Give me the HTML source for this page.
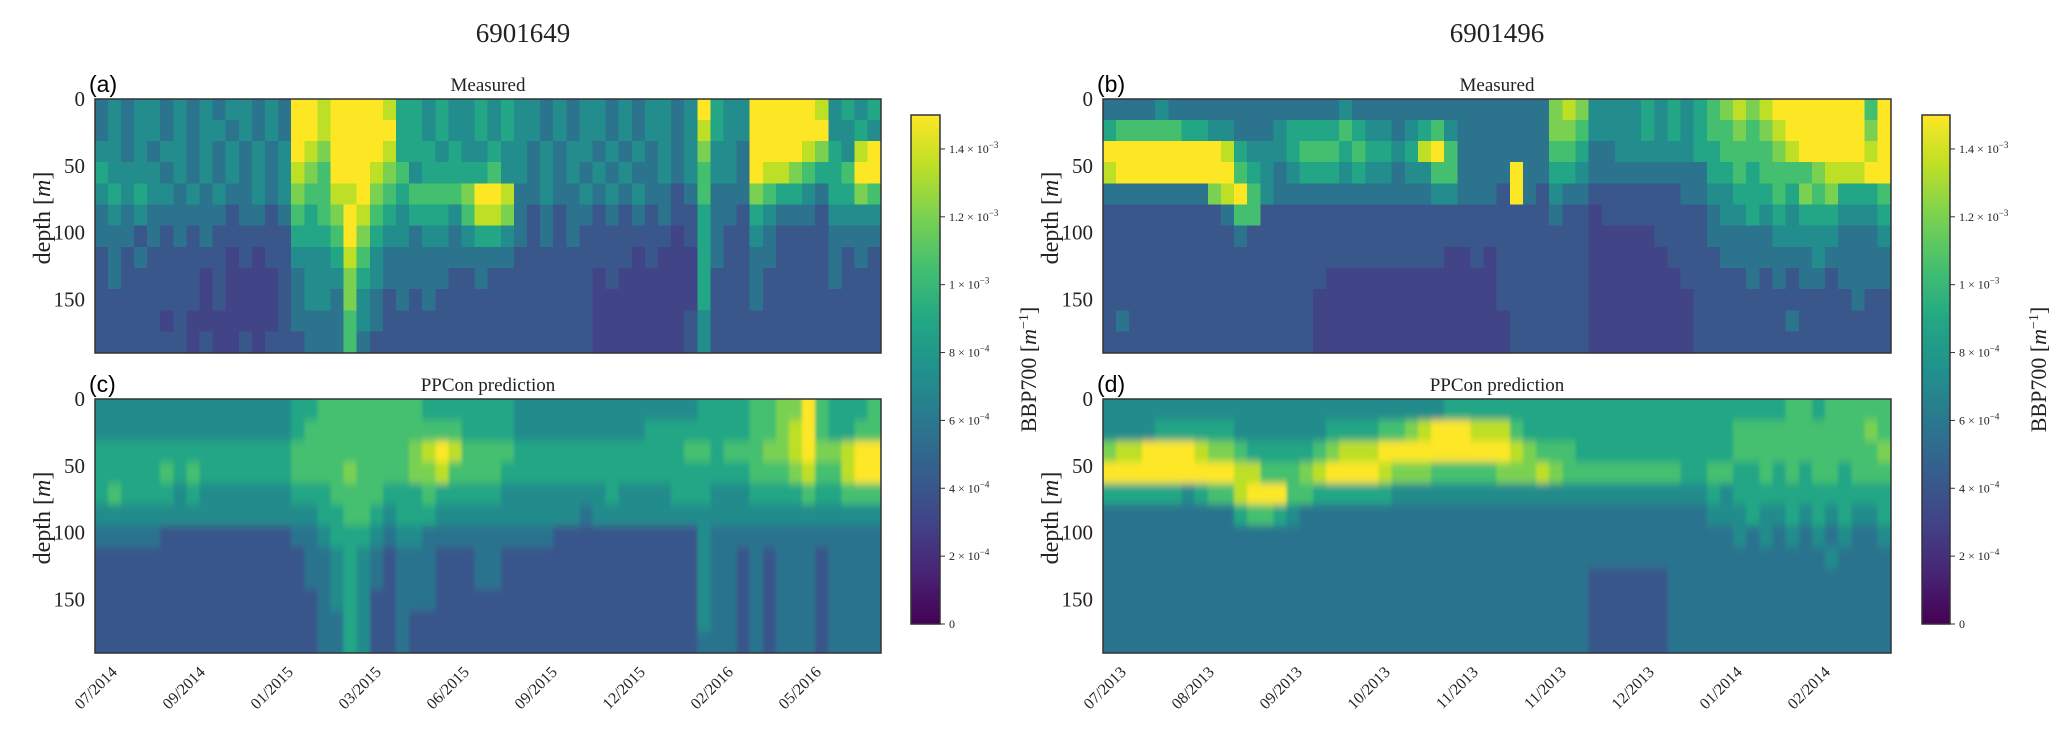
<!DOCTYPE html>
<html><head><meta charset="utf-8">
<style>
html,body{margin:0;padding:0;background:#fff;}
svg{display:block;}
.serif{font-family:"Liberation Serif",serif;fill:#222;}
.sans{font-family:"Liberation Sans",sans-serif;fill:#000;}
</style></head>
<body>
<svg id="fig" width="2067" height="734" viewBox="0 0 2067 734" xmlns="http://www.w3.org/2000/svg">
<defs>
<linearGradient id="viridis" x1="0" y1="1" x2="0" y2="0">
<stop offset="0" stop-color="#440154"/><stop offset="0.1" stop-color="#482475"/><stop offset="0.2" stop-color="#414487"/><stop offset="0.3" stop-color="#355f8d"/><stop offset="0.4" stop-color="#2a788e"/><stop offset="0.5" stop-color="#21918c"/><stop offset="0.6" stop-color="#22a884"/><stop offset="0.7" stop-color="#44bf70"/><stop offset="0.8" stop-color="#7ad151"/><stop offset="0.9" stop-color="#bddf26"/><stop offset="1" stop-color="#fde725"/>
</linearGradient>
<filter id="soft" x="-0.1" y="-0.2" width="1.2" height="1.4"><feGaussianBlur stdDeviation="1.5 4"/></filter>
</defs>
<text class="serif" x="523" y="42" font-size="27" text-anchor="middle">6901649</text>
<text class="serif" x="1497" y="42" font-size="27" text-anchor="middle">6901496</text>
<g id="plots"></g>
</svg>
<script>
// ---- data: depth-binned BBP700 levels (digit d -> value levelFrac[d]*vmax), 12 depth rows x 60 time columns
const panelA = [
"343443434344343"+"99899998"+"55454"+"4545"+"44343443434434"+"95"+"44"+"999998"+"4545",
"343443434434343"+"99899999"+"55454"+"4545"+"44343443434434"+"85"+"44"+"999999"+"4454",
"443434434343434"+"98799998"+"55545"+"4454"+"43434434343434"+"74"+"43"+"999987"+"5489",
"544443434343434"+"87699987"+"64555"+"5564"+"43434343433434"+"64"+"43"+"988765"+"5699",
"454544343433434"+"76688976"+"56666"+"7998"+"33433434343323"+"63"+"33"+"765543"+"5576",
"343433333323323"+"65679865"+"45554"+"6887"+"32323323232322"+"53"+"32"+"543332"+"4444",
"333232323222222"+"55569754"+"43443"+"4554"+"32323222222212"+"53"+"22"+"432222"+"3333",
"232322222212122"+"44458643"+"33333"+"3333"+"22222222212111"+"53"+"22"+"332222"+"3232",
"232222221211112"+"34447543"+"33332"+"2322"+"22222212111111"+"52"+"22"+"322222"+"3222",
"222222221211112"+"34437432"+"32322"+"2222"+"22222211111111"+"52"+"22"+"322222"+"2222",
"222221211111112"+"33336432"+"22222"+"2222"+"22222211111112"+"42"+"22"+"222222"+"2222",
"222222212112122"+"23336322"+"22222"+"2222"+"22222211111112"+"42"+"22"+"222222"+"2222"
];
const panelC = [
"444444444444444"+"55666666"+"66555"+"5555"+"44444444444444"+"55"+"55"+"667796"+"5556",
"444444444444444"+"56666666"+"66666"+"5555"+"44444444445555"+"55"+"55"+"667896"+"5566",
"555555555555555"+"66666666"+"67898"+"6666"+"55555555555556"+"65"+"66"+"677897"+"7899",
"555556565555555"+"66667666"+"67786"+"6665"+"55555555555555"+"55"+"55"+"666786"+"6899",
"565555454444444"+"55566665"+"55655"+"5554"+"44444445444455"+"54"+"44"+"555565"+"5666",
"444444444444444"+"44556654"+"55544"+"4444"+"44444344444444"+"44"+"44"+"444444"+"4444",
"333332222222222"+"33455543"+"44333"+"3333"+"33322222222222"+"43"+"33"+"333333"+"3333",
"222222222222222"+"23345432"+"33322"+"2332"+"22222222222222"+"43"+"32"+"323332"+"3333",
"222222222222222"+"23345432"+"33322"+"2332"+"22222222222222"+"43"+"32"+"323332"+"3333",
"222222222222222"+"22345422"+"33322"+"2222"+"22222222222222"+"43"+"32"+"323332"+"3333",
"222222222222222"+"22335422"+"32222"+"2222"+"22222222222222"+"43"+"32"+"323332"+"3333",
"222222222222222"+"22335422"+"32222"+"2222"+"22222222222222"+"33"+"32"+"323332"+"3333"
];
const panelB = [
"3333433333333"+"3333343333"+"3333"+"3333333"+"787"+"444454545"+"6787"+"8999999969",
"5666665544333"+"4555565443"+"4564"+"3333333"+"776"+"444454545"+"6676"+"7899999979",
"9999999998544"+"4566656554"+"5896"+"3333333"+"665"+"334444445"+"5666"+"6789999989",
"8999999999654"+"3455545443"+"4466"+"3333933"+"554"+"333333333"+"5565"+"6666788899",
"3333333378964"+"3333333333"+"3344"+"3332932"+"433"+"222222233"+"4455"+"5657675556",
"2222222223662"+"2222222222"+"2222"+"2222222"+"322"+"122222222"+"3445"+"4545554445",
"2222222222322"+"2222222222"+"2222"+"2222222"+"222"+"111112222"+"3333"+"3444443334",
"2222222222222"+"2222222222"+"2221"+"1212222"+"222"+"111111222"+"2333"+"3333433333",
"2222222222222"+"2222111111"+"1111"+"1112222"+"222"+"111111122"+"2223"+"2323323333",
"2222222222222"+"2221111111"+"1111"+"1112222"+"222"+"111111112"+"2222"+"2222222322",
"2322222222222"+"2221111111"+"1111"+"1111222"+"222"+"111111112"+"2222"+"2232222222",
"2222222222222"+"2221111111"+"1111"+"1111222"+"222"+"111111112"+"2222"+"2222222222"
];
const panelD = [
"4444444444444"+"4444444444"+"4445"+"5555555"+"555"+"555555555"+"5555"+"5566566666",
"4444555555444"+"4444555566"+"7899"+"9888655"+"555"+"555555555"+"5566"+"6666666676",
"7889999877655"+"5556788899"+"9999"+"9999876"+"665"+"555555555"+"5566"+"6666666667",
"9999999999886"+"6678999987"+"7766"+"6667778"+"766"+"666666655"+"6655"+"6565665666",
"5555554566899"+"9665555554"+"4444"+"4444444"+"444"+"444444444"+"5455"+"5555555555",
"3333333333566"+"5433333333"+"3333"+"3333333"+"333"+"333333333"+"4445"+"4454545445",
"3333333333333"+"3333333333"+"3333"+"3333333"+"333"+"333333333"+"3343"+"4343434334",
"3333333333333"+"3333333333"+"3333"+"3333333"+"333"+"333333333"+"3333"+"3333343333",
"3333333333333"+"3333333333"+"3333"+"3333333"+"333"+"222222333"+"3333"+"3333333333",
"3333333333333"+"3333333333"+"3333"+"3333333"+"333"+"222222333"+"3333"+"3333333333",
"3333333333333"+"3333333333"+"3333"+"3333333"+"333"+"222222333"+"3333"+"3333333333",
"3333333333333"+"3333333333"+"3333"+"3333333"+"333"+"222222333"+"3333"+"3333333333"
];
const levelFrac = [0.12, 0.2, 0.27, 0.38, 0.48, 0.59, 0.7, 0.8, 0.9, 1.0];
const depthTicks = [0, 50, 100, 150];
const depthMax = 190;
const leftDates = ["07/2014","09/2014","01/2015","03/2015","06/2015","09/2015","12/2015","02/2016","05/2016"];
const rightDates = ["07/2013","08/2013","09/2013","10/2013","11/2013","11/2013","12/2013","01/2014","02/2014"];
const cbarTicks = [0, 2e-4, 4e-4, 6e-4, 8e-4, 1e-3, 1.2e-3, 1.4e-3];
const cbarTickLabels = [["0",""],["2 × 10","−4"],["4 × 10","−4"],["6 × 10","−4"],["8 × 10","−4"],["1 × 10","−3"],["1.2 × 10","−3"],["1.4 × 10","−3"]];
const vmax = 1.5e-3;

const NS = "http://www.w3.org/2000/svg";
const root = document.getElementById('plots');
const stops = [[68,1,84],[72,36,117],[65,68,135],[53,95,141],[42,120,142],[33,145,140],[34,168,132],[68,191,112],[122,209,81],[189,223,38],[253,231,37]];
function viridis(t){t=Math.max(0,Math.min(1,t));const p=t*10,i=Math.min(9,Math.floor(p)),f=p-i;const a=stops[i],b=stops[i+1];return `rgb(${Math.round(a[0]+(b[0]-a[0])*f)},${Math.round(a[1]+(b[1]-a[1])*f)},${Math.round(a[2]+(b[2]-a[2])*f)})`;}
function digitValue(d){return levelFrac[d]*vmax;}
function mk(tag, attrs, parent){const e=document.createElementNS(NS,tag);for(const k in attrs)e.setAttribute(k,attrs[k]);(parent||root).appendChild(e);return e;}

function drawPanel(grid, x0, x1, y0, y1, name, smooth, label, title){
  const g = mk('g',{});
  
  
  const cid = 'clip-'+name;
  const cp = mk('clipPath',{id:cid},g); mk('rect',{x:x0,y:y0,width:x1-x0,height:y1-y0},cp);
  const cells = mk('g',{'clip-path':`url(#${cid})`},g);
  const inner = mk('g', smooth?{filter:'url(#soft)'}:{}, cells);
  const nr = grid.length, nc = grid[0].length;
  const xs = c => x0 + c*(x1-x0)/nc;
  const ys = dep => y0 + dep/depthMax*(y1-y0);
  const pad = smooth ? 20 : 0;
  for(let r=0;r<nr;r++){
    for(let c=0;c<nc;c++){
      const v = digitValue(+grid[r][c]);
      let x = xs(c)-0.3, y = ys(r*depthMax/nr)-0.3, w = (x1-x0)/nc+0.6, h = (y1-y0)/nr+0.6;
      if(c===0){x-=pad; w+=pad;}
      if(c===nc-1){w+=pad;}
      if(r===0){y-=pad; h+=pad;}
      if(r===nr-1){h+=pad;}
      const rc = mk('rect',{x:x,y:y,width:w,height:h,fill:viridis(v/vmax),'shape-rendering':'crispEdges'},inner);
      
      
    }
  }
  const fr = mk('rect',{x:x0,y:y0,width:x1-x0,height:y1-y0,fill:'none',stroke:'#333','stroke-width':1.5},g);
  
  
  depthTicks.forEach(d=>{
    const t = mk('text',{x:x0-10,y:ys(d)+7,'font-size':21,'text-anchor':'end',class:'serif'},g);
    t.textContent = d;
    
    
  });
  const yl = mk('text',{x:0,y:0,'font-size':24,'text-anchor':'middle',class:'serif',transform:`translate(${x0-45},${(y0+y1)/2-8}) rotate(-90)`},g);
  yl.innerHTML = 'depth [<tspan font-style="italic">m</tspan>]';
  
  
  const pl = mk('text',{x:x0-6,y:y0-7,'font-size':23,class:'sans'},g);
  pl.textContent = label;
  
  
  const tt = mk('text',{x:(x0+x1)/2,y:y0-8,'font-size':19,'text-anchor':'middle',class:'serif'},g);
  tt.textContent = title;
  
  
}

function drawDates(dates, xStart){
  dates.forEach((s,i)=>{
    const x = xStart + 88*i;
    const t = mk('text',{'font-size':16,'text-anchor':'end',class:'serif',transform:`translate(${x},${673}) rotate(-45)`});
    t.textContent = s;
    
    
  });
}

function drawColorbar(x0, x1, y0, y1, labelX){
  const g = mk('g',{});
  
  
  mk('rect',{x:x0,y:y0,width:x1-x0,height:y1-y0,fill:'url(#viridis)',stroke:'#333','stroke-width':1.5},g);
  const yv = v => y1 - v/vmax*(y1-y0);
  cbarTicks.forEach((v,i)=>{
    mk('line',{x1:x1,x2:x1+5,y1:yv(v),y2:yv(v),stroke:'#333','stroke-width':1},g);
    const t = mk('text',{x:x1+9,y:yv(v)+4,'font-size':12,class:'serif'},g);
    t.innerHTML = cbarTickLabels[i][0] + (cbarTickLabels[i][1]?`<tspan dy="-5" font-size="9">${cbarTickLabels[i][1]}</tspan>`:'');
    
    
  });
  const l = mk('text',{'font-size':22,'text-anchor':'middle',class:'serif',transform:`translate(${labelX},${(y0+y1)/2}) rotate(-90)`},g);
  l.innerHTML = 'BBP700 [<tspan font-style="italic">m</tspan><tspan dy="-8" font-size="14">−1</tspan><tspan dy="8">]</tspan>';
  
  
}

drawPanel(panelA, 95, 881, 99, 353, 'heatmap-a-measured', false, '(a)', 'Measured');
drawPanel(panelC, 95, 881, 399, 653, 'heatmap-c-prediction', true, '(c)', 'PPCon prediction');
drawPanel(panelB, 1103, 1891, 99, 353, 'heatmap-b-measured', false, '(b)', 'Measured');
drawPanel(panelD, 1103, 1891, 399, 653, 'heatmap-d-prediction', true, '(d)', 'PPCon prediction');
drawDates(leftDates, 118);
drawDates(rightDates, 1127);
drawColorbar(911, 940, 115, 624, 1036);
drawColorbar(1922, 1950, 115, 624, 2046);
</script>
</body></html>
